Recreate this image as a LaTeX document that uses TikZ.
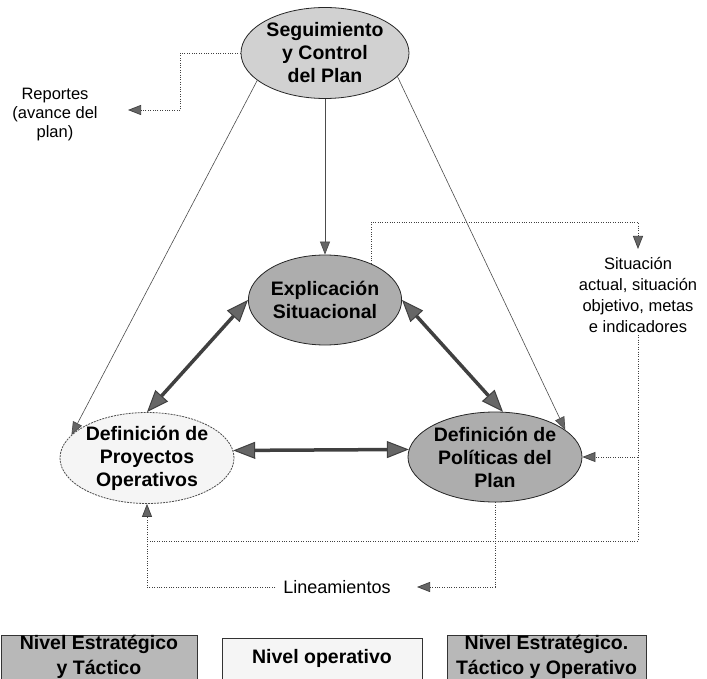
\documentclass[tikz,border=0pt]{standalone}
\usepackage{fontspec}
\setmainfont{Liberation Sans}
\usetikzlibrary{arrows.meta,shapes.geometric}
\begin{document}
\begin{tikzpicture}[x=1pt,y=-1pt,
  ell/.style={ellipse, draw=black!85, line width=0.8pt, inner sep=0pt, align=center,
    font=\fontsize{19.5}{23}\selectfont\bfseries},
  lbl/.style={align=center, inner sep=2pt, font=\fontsize{16.5}{19}\selectfont},
  legendbox/.style={rectangle, draw=black!80, line width=0.8pt, inner sep=0pt, align=center,
    font=\fontsize{19.5}{25}\selectfont\bfseries},
  tipthin/.tip={Triangle[length=13pt,width=10pt,line width=0.7pt,fill=black!60]},
  tipbig/.tip={Triangle[length=22pt,width=17pt,line width=1pt,fill=black!60]},
  thinarrow/.style={draw=black!70, line width=0.6pt, -tipthin},
  bigarrow/.style={draw=black!75, line width=3.5pt, tipbig-tipbig},
  dotline/.style={draw=black!75, line width=0.8pt, dash pattern=on 1pt off 1.4pt},
  dotarrow/.style={dotline, -tipthin}
]
\useasboundingbox (0,0) rectangle (707,679);

% main ellipses
\node[ell, fill=black!18, minimum width=168pt, minimum height=91pt] (seg) at (325,53) {Seguimiento\\y Control\\del Plan};
\node[ell, fill=black!32, minimum width=142pt, minimum height=90pt] (exp) at (325,300) {Explicación\\Situacional};
\node[ell, fill=black!4, draw=black!70, dash pattern=on 2pt off 1pt, minimum width=174pt, minimum height=90pt] (proj) at (147,458) {Definición de\\Proyectos\\Operativos};
\node[ell, fill=black!32, minimum width=174pt, minimum height=90pt] (pol) at (495,457) {Definición de\\Políticas del\\Plan};

% labels
\node[lbl] (rep) at (55,115) {Reportes\\(avance del\\plan)};
\node[lbl, font=\fontsize{16.5}{21}\selectfont] (sit) at (638,295) {Situación\\actual, situación\\objetivo, metas\\e indicadores};
\node[lbl, inner xsep=8pt, font=\fontsize{18}{20}\selectfont] (lin) at (337,587) {Lineamientos};

% legend
\node[legendbox, fill=black!28, minimum width=196pt, minimum height=44pt] (b1) at (99,657) {Nivel Estratégico\\y Táctico};
\node[legendbox, fill=black!4, minimum width=200pt, minimum height=41pt] (b2) at (322,658.5) {Nivel operativo};
\node[legendbox, fill=black!28, minimum width=199pt, minimum height=44pt] (b3) at (546.5,657) {Nivel Estratégico.\\Táctico y Operativo};

% thin solid connectors
\draw[thinarrow] (seg.south) -- (exp.north);
\draw[thinarrow] (seg.202) -- (proj.163);
\draw[thinarrow] (seg.342) -- (pol.21);

% thick double arrows
\draw[bigarrow] (exp.west) -- (proj.north);
\draw[bigarrow] (exp.east) -- (pol.80);
\draw[bigarrow] (proj.5) -- (pol.175);

% dotted connectors
\coordinate (reptip) at (128,110);
\draw[dotarrow] (seg.west) -- ++(-60,0) |- (reptip);

\coordinate (c1) at (0,222);
\coordinate (sittip) at (638,249);
\draw[dotarrow] (exp.38) -- (exp.38 |- c1) -| (sittip);

\draw[dotarrow] (sit.south) |- (pol.east);
\coordinate (j) at (147,541);
\draw[dotline] (sit.south) |- (j);

\coordinate (lintip) at (417,587);
\draw[dotarrow] (pol.south) |- (lintip);
\draw[dotarrow] (lin.west) -| (proj.south);
\end{tikzpicture}
\end{document}
